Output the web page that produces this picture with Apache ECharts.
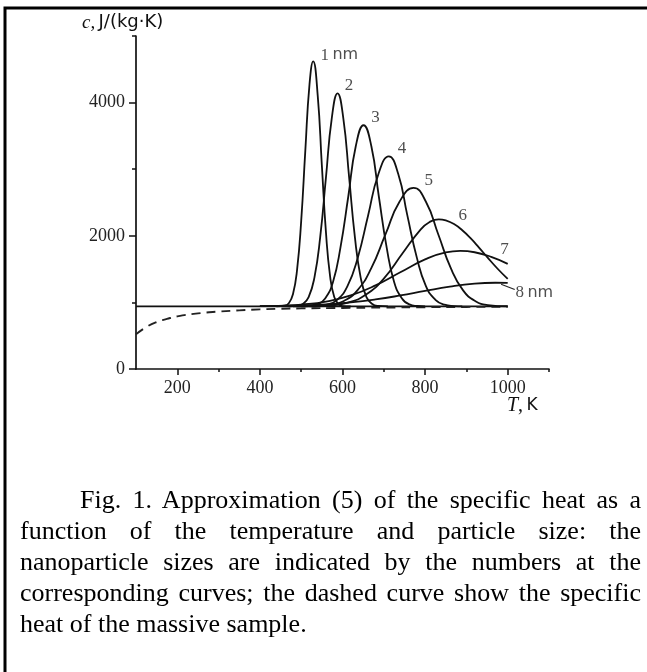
<!DOCTYPE html>
<html>
<head>
<meta charset="utf-8">
<script src="https://cdn.jsdelivr.net/npm/echarts/dist/echarts.min.js"></script>
<style>
  html, body { margin: 0; padding: 0; background: #fff; }
  #wrap { position: relative; width: 647px; height: 672px; overflow: hidden; background: #fff; }
  #chart { position: absolute; left: 0; top: 0; width: 647px; height: 672px; }
  #caption { position: absolute; left: 20px; top: 484px; width: 621px;
    font-family: "Liberation Serif", serif; font-size: 26px; line-height: 31px; color: #000; }
  #caption .j { text-align: justify; text-align-last: justify; }
</style>
</head>
<body>
<div id="wrap">
  <div id="chart"></div>
  <div id="caption">
    <div class="j" style="text-indent:60px">Fig. 1. Approximation (5) of the specific heat as a</div>
    <div class="j">function of the temperature and particle size: the</div>
    <div class="j">nanoparticle sizes are indicated by the numbers at the</div>
    <div class="j">corresponding curves; the dashed curve show the specific</div>
    <div>heat of the massive sample.</div>
  </div>
</div>
<script>
// T in K, c in J/(kg K)
var baseline = [[100, 940], [1000, 940]];
var massive = [[100, 520], [125, 630], [150, 705], [175, 752], [200, 790], [250, 835], [300, 862],
  [350, 880], [400, 896], [450, 905], [500, 910], [600, 917], [700, 923], [800, 928], [900, 932], [1000, 935]];

var curve1nm = [[440, 940], [460, 950], [470, 987], [480, 1122], [490, 1489], [500, 2225], [510, 3282],
  [520, 4267], [529, 4620], [540, 4105], [550, 3060], [560, 2047], [570, 1390], [580, 1082],
  [590, 975], [600, 945], [620, 940]];
var curve2nm = [[470, 940], [490, 947], [504, 976], [518, 1080], [532, 1373], [546, 1979], [560, 2881],
  [574, 3764], [588, 4140], [602, 3764], [616, 2881], [630, 1979], [644, 1373], [658, 1080],
  [672, 976], [686, 947], [710, 940]];
var curve3nm = [[500, 940], [522, 946], [540, 970], [558, 1059], [577, 1308], [595, 1823], [614, 2590],
  [632, 3340], [651, 3660], [670, 3340], [688, 2590], [707, 1823], [725, 1308], [744, 1059],
  [762, 970], [781, 946], [800, 940]];
var curve4nm = [[530, 940], [562, 965], [587, 1039], [612, 1245], [637, 1672], [662, 2306], [687, 2928],
  [712, 3193], [735, 2928], [757, 2306], [780, 1672], [802, 1245], [825, 1039], [847, 965],
  [870, 945], [890, 940]];
var curve5nm = [[520, 940], [568, 960], [602, 1018], [636, 1181], [670, 1518], [704, 2020], [738, 2511],
  [772, 2720], [802, 2511], [832, 2020], [862, 1518], [892, 1181], [922, 1018], [952, 960], [1000, 942]];
var curve6nm = [[480, 940], [569, 954], [613, 997], [657, 1117], [701, 1365], [745, 1733], [789, 2094],
  [811, 2208], [833, 2248], [850, 2232], [870, 2176], [890, 2083], [910, 1964], [930, 1827],
  [950, 1683], [975, 1509], [1000, 1353]];
var curve7nm = [[400, 944], [460, 953], [500, 967], [560, 1012], [620, 1104], [680, 1255], [740, 1452],
  [800, 1645], [850, 1750], [885, 1773], [920, 1753], [960, 1684], [1000, 1579]];
var curve8nm = [[400, 943], [500, 954], [560, 970], [620, 999], [680, 1044], [740, 1104], [800, 1173],
  [860, 1237], [920, 1282], [970, 1295], [1000, 1292]];
var leader8 = [[984, 1274], [1017, 1195]];

var curveNames = ['1 nm', '2', '3', '4', '5', '6', '7', '8 nm'];
var labelT = [547, 616, 680, 744, 809, 891, 992, 1019];
var labelC = [4710, 4258, 3783, 3309, 2823, 2298, 1795, 1144];

var xLabelTicks = [200, 400, 600, 800, 1000];
var xMinorTicks = [300, 500, 700, 900, 1100];
var yLabelTicks = [0, 2000, 4000];
var yMinorTicks = [1000, 3000, 5000];

var chart = echarts.init(document.getElementById('chart'));

var ink = '#111';
var serif = '"Liberation Serif", serif';
var sans = '"DejaVu Sans", sans-serif';
var plain = function (v) { return String(v); };

var curves = [curve1nm, curve2nm, curve3nm, curve4nm, curve5nm, curve6nm, curve7nm, curve8nm];

var series = [
  { type: 'line', data: baseline, showSymbol: false, lineStyle: { color: ink, width: 1.8 } },
  { type: 'line', data: massive, smooth: 0.5, showSymbol: false,
    lineStyle: { color: '#222', width: 1.9, type: [9, 6] } },
  { type: 'line', data: leader8, showSymbol: false, lineStyle: { color: '#222', width: 1.1 } }
];
curves.forEach(function (d) {
  series.push({ type: 'line', data: d, smooth: 0.5, showSymbol: false,
    lineStyle: { color: ink, width: 1.8 } });
});

var labelData = curveNames.map(function (name, i) {
  var parts = name.split(' ');
  var txt = '{d|' + parts[0] + '}' + (parts[1] ? ' {u|' + parts[1] + '}' : '');
  return {
    value: [labelT[i], labelC[i]],
    label: { formatter: txt, position: parts[1] ? 'right' : 'inside', distance: 0 }
  };
});
series.push({
  type: 'scatter', data: labelData, symbolSize: 0, silent: true,
  label: { show: true, color: ink,
    rich: { d: { fontFamily: serif, fontSize: 17, color: '#222' }, u: { fontFamily: sans, fontSize: 16, color: '#222' } } }
});

var option = {
  animation: false,
  backgroundColor: '#fff',
  grid: { left: 136, right: 98, top: 36, bottom: 303 },
  xAxis: [
    { type: 'value', min: 100, max: 1100, interval: 100, position: 'bottom',
      axisLine: { onZero: false, lineStyle: { color: ink, width: 1.7 } },
      axisTick: { customValues: xLabelTicks, length: 6, lineStyle: { color: ink, width: 1.5 } },
      axisLabel: { customValues: xLabelTicks, formatter: plain, margin: 10, fontFamily: serif, fontSize: 18, color: '#222' },
      splitLine: { show: false } },
    { type: 'value', min: 100, max: 1100, interval: 100, position: 'bottom',
      axisLine: { show: false },
      axisTick: { customValues: xMinorTicks, length: 3, lineStyle: { color: ink, width: 1.5 } },
      axisLabel: { show: false }, splitLine: { show: false } }
  ],
  yAxis: [
    { type: 'value', min: 0, max: 5000, interval: 1000, position: 'left',
      axisLine: { show: true, onZero: false, lineStyle: { color: ink, width: 1.7 } },
      axisTick: { show: true, customValues: yLabelTicks, length: 7, lineStyle: { color: ink, width: 1.5 } },
      axisLabel: { customValues: yLabelTicks, formatter: plain, margin: 11, fontFamily: serif, fontSize: 18, color: '#222' },
      splitLine: { show: false } },
    { type: 'value', min: 0, max: 5000, interval: 1000, position: 'left',
      axisLine: { show: false },
      axisTick: { show: true, customValues: yMinorTicks, length: 4, lineStyle: { color: ink, width: 1.5 } },
      axisLabel: { show: false }, splitLine: { show: false } }
  ],
  graphic: [
    { type: 'rect', shape: { x: 5, y: 8, width: 700, height: 700 },
      style: { fill: null, stroke: '#000', lineWidth: 3 }, silent: true },
    { type: 'text', left: 82, top: 13,
      style: { text: '{i|c,} {s|J/(kg·K)}',
        rich: { i: { fontFamily: serif, fontStyle: 'italic', fontSize: 19, fill: ink },
                s: { fontFamily: sans, fontSize: 18, fill: ink } } } },
    { type: 'text', left: 507, top: 396,
      style: { text: '{i|T}{r|,} {s|K}',
        rich: { i: { fontFamily: serif, fontStyle: 'italic', fontSize: 20, fill: ink },
                r: { fontFamily: serif, fontSize: 20, fill: ink },
                s: { fontFamily: sans, fontSize: 17, fill: ink } } } }
  ],
  series: series
};

chart.setOption(option);
</script>
</body>
</html>
